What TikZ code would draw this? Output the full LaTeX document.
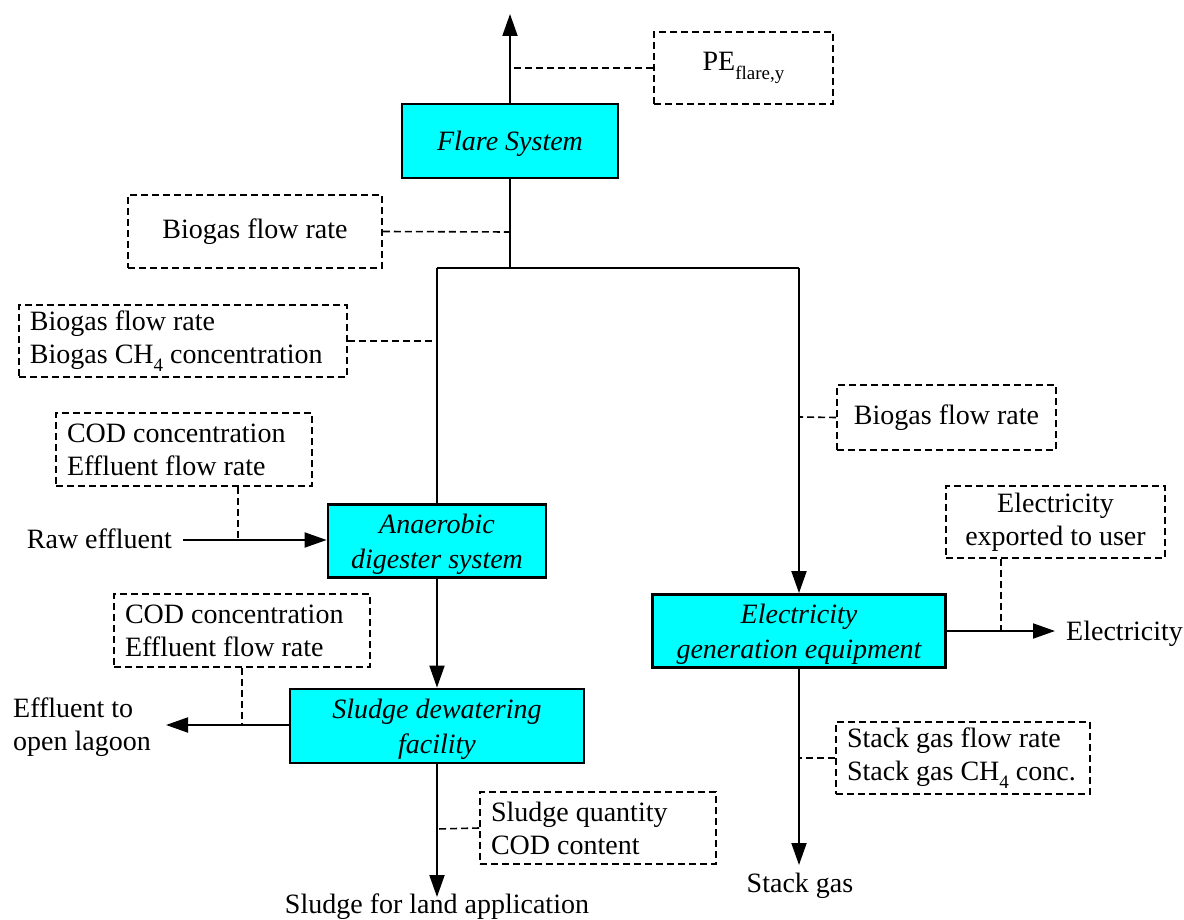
\documentclass[tikz,border=0pt]{standalone}
\usepackage{fontspec}
\setmainfont{Liberation Serif}
\usetikzlibrary{arrows.meta}
\definecolor{boxcyan}{RGB}{0,255,255}
\newcommand\sbs[1]{\raisebox{-0.3em}{\fontsize{19}{19}\selectfont #1}}
\newcommand\lowr[1]{\raisebox{-3pt}[\height][\depth]{#1}}
\begin{document}
\begin{tikzpicture}[x=1pt,y=-1pt,
 every node/.style={font=\fontsize{28}{33}\selectfont},
 proc/.style={draw, line width=2.8pt, fill=boxcyan, inner sep=0pt, align=center, font=\fontsize{28}{35}\selectfont\itshape},
 meas/.style={draw, dash pattern=on 7pt off 4pt, line width=1.6pt, inner sep=0pt, align=center},
 measl/.style={meas, align=flush left, inner xsep=11pt, text width=#1},
 lbl/.style={inner sep=0pt},
 flow/.style={line width=1.9pt, -{Triangle[length=22pt,width=15pt]}},
 pipe/.style={line width=1.9pt},
 tap/.style={dash pattern=on 7pt off 4pt, line width=1.6pt}
]
\useasboundingbox (0,0) rectangle (1184,920);

% process boxes
\node[proc, minimum width=216pt, minimum height=74pt] (flare) at (510,141) {\lowr{Flare System}};
\node[proc, minimum width=218pt, minimum height=73pt] (ad) at (437,541) {\lowr{Anaerobic}\\\lowr{digester system}};
\node[proc, minimum width=294pt, minimum height=74pt] (sd) at (437,726) {\lowr{Sludge dewatering}\\\lowr{facility}};
\node[proc, minimum width=293pt, minimum height=73pt] (eg) at (799,631) {\lowr{Electricity}\\\lowr{generation equipment}};

% measurement boxes
\node[meas, minimum width=179pt, minimum height=72pt] (pe) at (743.5,68) {PE\sbs{flare,y}};
\node[meas, minimum width=254pt, minimum height=73pt] (bg1) at (255,231.5) {Biogas flow rate};
\node[measl=306pt, minimum height=72pt] (bg2) at (183,341) {Biogas flow rate\\Biogas CH\sbs{4} concentration};
\node[meas, minimum width=219pt, minimum height=65pt] (bg3) at (946.5,417.5) {Biogas flow rate};
\node[measl=234pt, minimum height=73pt] (cod1) at (184,449.5) {COD concentration\\Effluent flow rate};
\node[measl=234pt, minimum height=73pt] (cod2) at (242,630.5) {COD concentration\\Effluent flow rate};
\node[measl=214pt, minimum height=72pt] (sq) at (598,828) {Sludge quantity\\COD content};
\node[meas, minimum width=219pt, minimum height=72pt] (ex) at (1055.5,522) {Electricity\\exported to user};
\node[measl=232pt, minimum height=72pt] (sg) at (963,758) {Stack gas flow rate\\Stack gas CH\sbs{4} conc.};

% plain labels
\node[lbl, anchor=base east] (raw) at (172,548) {Raw effluent};
\node[lbl, anchor=west, align=left] (eff) at (13,727) {Effluent to\\open lagoon};
\node[lbl, anchor=base] (land) at (437,913) {Sludge for land application};
\node[lbl, anchor=base] (stk) at (800,892) {Stack gas};
\node[lbl, anchor=base west] (elec) at (1066,640) {Electricity};

% junctions and free ends
\coordinate (top) at (510,14);
\coordinate (jc) at (510,268);
\coordinate (jl) at (437,268);
\coordinate (jr) at (799,268);
\coordinate (rawstart) at (183,540);
\coordinate (effend) at (166,725);
\coordinate (landend) at (437,897);
\coordinate (stkend) at (799,865);
\coordinate (elecend) at (1055,631);
\coordinate (tpe) at (510,68);
\coordinate (tbg1) at (510,232);
\coordinate (tbg2) at (437,341);
\coordinate (tbg3) at (799,417);
\coordinate (tcod1) at (238,540);
\coordinate (tcod2) at (242,725);
\coordinate (tsq) at (437,829);
\coordinate (tex) at (1001,631);
\coordinate (tsg) at (799,758);

% main flows
\draw[flow] (flare.north) -- (top);
\draw[pipe] (flare.south) -- (jc);
\draw[pipe] (jl) -- (jr);
\draw[pipe] (jl) -- (ad.north);
\draw[flow] (jr) -- (eg.north);
\draw[flow] (rawstart) -- (rawstart -| ad.west);
\draw[flow] (ad.south) -- (sd.north);
\draw[flow] (sd.west |- effend) -- (effend);
\draw[flow] (sd.south) -- (landend);
\draw[flow] (eg.east |- elecend) -- (elecend);
\draw[flow] (eg.south -| stkend) -- (stkend);

% measurement taps
\draw[tap] (pe.west) -- (tpe);
\draw[tap] (bg1.east) -- (tbg1);
\draw[tap] (bg2.east) -- (tbg2);
\draw[tap] (bg3.west) -- (tbg3);
\draw[tap] (cod1.south -| tcod1) -- (tcod1);
\draw[tap] (cod2.south -| tcod2) -- (tcod2);
\draw[tap] (sq.west) -- (tsq);
\draw[tap] (ex.south -| tex) -- (tex);
\draw[tap] (sg.west) -- (tsg);
\end{tikzpicture}
\end{document}
